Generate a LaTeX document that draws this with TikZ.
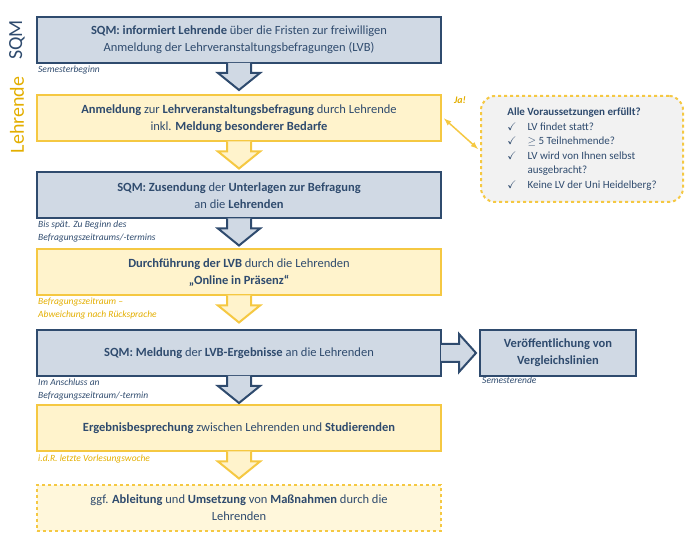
\documentclass[tikz,border=0pt]{standalone}
\usepackage{fontspec}
\setmainfont{Carlito}
\usepackage{amssymb}
\usetikzlibrary{calc}
\definecolor{sqmline}{HTML}{2F4B6E}
\definecolor{sqmfill}{HTML}{D0D9E4}
\definecolor{lehline}{HTML}{F5C842}
\definecolor{lehfill}{HTML}{FFF3CC}
\definecolor{lehtext}{HTML}{E3AE00}
\definecolor{greyfill}{HTML}{F2F2F2}
\tikzset{
  box/.style={draw, line width=2pt, minimum width=404pt, minimum height=46pt, align=center, font=\fontsize{12.5}{17}\selectfont, inner sep=0pt},
  sqm/.style={box, draw=sqmline, fill=sqmfill, text=sqmline},
  leh/.style={box, draw=lehline, fill=lehfill, text=sqmline},
  sqmarr/.style={draw=sqmline, fill=sqmfill, line width=2pt, line join=miter},
  leharr/.style={draw=lehline, fill=lehfill, line width=2pt, line join=miter},
  note/.style={anchor=north west, align=left, font=\fontsize{9.5}{13}\selectfont\itshape, inner sep=0pt}
}
% down arrow below a box
\newcommand{\flowarr}[2]{%
  \draw[#2] ($(#1.south)+(-12,1)$) -- ++(0,-10) -- ++(-9,0) -- ++(21,-17) -- ++(21,17) -- ++(-9,0) -- ++(0,10);}
\begin{document}
\begin{tikzpicture}[x=1pt,y=1pt]
\useasboundingbox (0,0) rectangle (692,545);
% main flow
\node[sqm] (info) at (239,505) {\textbf{SQM: informiert Lehrende} über die Fristen zur freiwilligen\\Anmeldung der Lehrveranstaltungsbefragungen (LVB)};
\node[leh] (anm) at (239,426.5) {\textbf{Anmeldung} zur \textbf{Lehrveranstaltungsbefragung} durch Lehrende\\inkl. \textbf{Meldung besonderer Bedarfe}};
\node[sqm] (zus) at (239,349.5) {\textbf{SQM: Zusendung} der \textbf{Unterlagen zur Befragung}\\an die \textbf{Lehrenden}};
\node[leh] (durch) at (239,272.5) {\textbf{Durchführung der LVB} durch die Lehrenden\\\textbf{„Online in Präsenz“}};
\node[sqm] (erg) at (239,192) {\textbf{SQM: Meldung} der \textbf{LVB-Ergebnisse} an die Lehrenden};
\node[leh] (bespr) at (239,116.5) {\textbf{Ergebnisbesprechung} zwischen Lehrenden und \textbf{Studierenden}};
\node[leh, dashed, fill=lehfill!70] (mass) at (239,37) {ggf. \textbf{Ableitung} und \textbf{Umsetzung} von \textbf{Maßnahmen} durch die\\Lehrenden};
\flowarr{info}{sqmarr}
\flowarr{anm}{leharr}
\flowarr{zus}{sqmarr}
\flowarr{durch}{leharr}
\flowarr{erg}{sqmarr}
\flowarr{bespr}{leharr}
% notes
\node[note, text=sqmline] (n1) at (38,479) {Semesterbeginn};
\node[note, text=sqmline] (n2) at (38,324) {Bis spät. Zu Beginn des\\Befragungszeitraums/-termins};
\node[note, text=lehtext] (n3) at (38,247) {Befragungszeitraum –\\Abweichung nach Rücksprache};
\node[note, text=sqmline] (n4) at (38,166) {Im Anschluss an\\Befragungszeitraum/-termin};
\node[note, text=lehtext] (n5) at (38,90) {i.d.R. letzte Vorlesungswoche};
\node[note, text=sqmline] (n6) at (482,168) {Semesterende};
% side labels
\node[rotate=90, text=sqmline, font=\fontsize{20}{20}\selectfont] (lsqm) at (17,505) {SQM};
\node[rotate=90, text=lehtext, font=\fontsize{20}{20}\selectfont] (lleh) at (17,430) {Lehrende};
% conditions
\node[draw=lehline, dashed, line width=2pt, rounded corners=14pt, fill=greyfill, minimum width=202pt, minimum height=106pt, text=sqmline, align=left, font=\fontsize{11}{14.5}\selectfont] (cond) at (582,396) {%
\textbf{Alle Voraussetzungen erfüllt?}\\
$\checkmark$\quad LV findet statt?\\
$\checkmark$\quad $\geq$ 5 Teilnehmende?\\
$\checkmark$\quad LV wird von Ihnen selbst\\
\phantom{$\checkmark$}\quad ausgebracht?\\
$\checkmark$\quad Keine LV der Uni Heidelberg?};
\draw[lehline, line width=1.5pt, <->, >=latex] (anm.east) ++(2,0) -- ($(cond.west)+(-2,0)$);
\node[text=lehtext, font=\fontsize{10}{12}\selectfont\bfseries\itshape] (ja) at (460,445) {Ja!};
% publication
\node[sqm, minimum width=156pt, minimum height=46pt, font=\fontsize{12.5}{17}\selectfont\bfseries] (veroe) at (558,192) {Veröffentlichung von\\Vergleichslinien};
\draw[sqmarr] ($(erg.east)+(-1,9)$) -- ++(18,0) -- ++(0,10) -- ($(veroe.west)+(-3,0)$) -- ($(erg.east)+(17,-19)$) -- ++(0,10) -- ++(-18,0);
\end{tikzpicture}
\end{document}
